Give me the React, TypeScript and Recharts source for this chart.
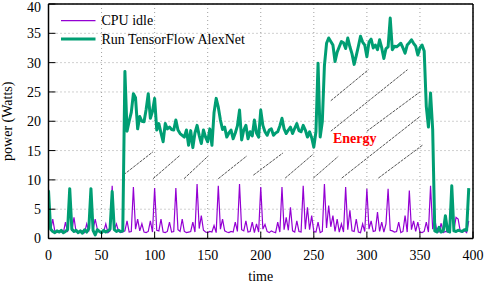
import React from 'react';
import {
  LineChart,
  Line,
  XAxis,
  YAxis,
  CartesianGrid,
  ReferenceLine,
  ReferenceDot,
  Legend,
  Label,
} from 'recharts';

// power (Watts), sampled every 2 time units, t = 0 .. 396
const CPU_IDLE = [
  8.4, 1.4, 3.3, 1.2, 1.0, 1.3, 1.1, 1.0, 2.8, 1.1,
  8.3, 1.3, 3.6, 1.1, 1.2, 1.0, 1.3, 1.0, 2.5, 1.2,
  8.2, 1.5, 3.3, 1.6, 1.1, 1.0, 1.2, 2.5, 1.0, 1.3,
  9.0, 1.5, 2.5, 1.2, 1.0, 1.1, 1.3, 3.0, 1.1, 1.2,
  8.8, 1.6, 3.3, 1.3, 2.5, 1.1, 1.0, 1.2, 3.0, 1.1,
  8.6, 1.4, 1.3, 3.3, 1.1, 1.0, 1.2, 2.8, 1.1, 1.2,
  8.6, 1.5, 1.2, 3.3, 1.2, 1.0, 1.1, 1.2, 2.8, 1.1,
  9.3, 1.7, 3.9, 1.4, 1.1, 1.0, 1.2, 1.1, 2.2, 1.0,
  9.0, 1.6, 3.3, 1.3, 1.1, 1.0, 1.2, 1.1, 2.8, 1.2,
  9.3, 1.5, 1.3, 3.0, 1.1, 1.2, 2.8, 1.0, 2.5, 1.1,
  8.8, 1.6, 2.4, 1.2, 1.0, 1.3, 1.1, 1.0, 2.8, 1.1,
  8.8, 1.5, 3.6, 1.4, 5.3, 1.3, 1.1, 3.0, 1.2, 1.1,
  9.0, 1.6, 5.3, 1.5, 3.9, 1.2, 1.1, 2.8, 1.0, 1.2,
  9.3, 1.8, 5.6, 2.0, 3.9, 1.2, 3.3, 1.1, 2.5, 1.1,
  8.8, 1.5, 4.8, 1.3, 1.2, 3.3, 1.1, 1.0, 2.5, 1.2,
  8.5, 1.6, 3.0, 1.2, 1.3, 4.5, 1.2, 2.8, 1.1, 2.5,
  8.5, 1.4, 1.3, 1.1, 1.2, 2.8, 1.0, 1.2, 3.9, 1.1,
  8.2, 1.5, 3.0, 1.2, 2.8, 1.1, 1.0, 1.2, 2.8, 1.1,
  9.0, 1.6, 3.3, 1.2, 1.1, 2.6, 1.0, 1.2, 1.1, 2.5,
  8.5, 1.4, 3.6, 3.3, 1.2, 1.1, 1.3, 1.0, 3.0,
];

const TF_ALEXNET = [
  8.2, 1.6, 1.2, 1.0, 1.3, 1.1, 1.4, 1.0, 1.2, 1.5,
  8.5, 1.6, 1.2, 1.4, 1.0, 1.3, 0.9, 1.5, 1.1, 1.7,
  8.5, 1.4, 0.6, 1.5, 1.2, 1.0, 1.4, 1.1, 1.3, 1.6,
  8.0, 1.5, 1.2, 1.4, 1.2, 1.3, 28.5, 18.3, 20.0, 21.5,
  24.7, 24.0, 18.7, 20.8, 20.0, 19.9, 22.0, 24.7, 20.5, 21.7,
  23.9, 18.5, 19.6, 18.0, 16.5, 19.6, 18.7, 19.0, 18.6, 18.5,
  20.2, 18.5, 17.9, 17.6, 17.3, 18.5, 15.9, 18.4, 15.5, 18.0,
  19.3, 17.6, 16.2, 18.5, 17.3, 16.5, 18.7, 15.9, 21.5, 23.9,
  22.4, 20.2, 18.6, 19.0, 17.3, 18.0, 18.5, 17.0, 18.0, 19.2,
  21.9, 16.8, 18.5, 19.3, 17.0, 18.2, 17.5, 20.2, 18.0, 17.3,
  21.9, 19.3, 18.2, 17.6, 18.5, 18.7, 17.6, 18.0, 18.2, 19.2,
  20.5, 18.7, 17.9, 18.5, 19.0, 17.9, 18.8, 19.6, 18.4, 18.2,
  19.3, 18.5, 17.3, 18.2, 17.2, 15.6, 18.2, 29.9, 17.3, 19.9,
  29.5, 33.3, 34.2, 33.6, 33.0, 30.2, 31.8, 32.7, 33.6, 33.4,
  32.4, 34.2, 32.7, 31.5, 29.7, 31.2, 32.8, 34.5, 33.5, 33.0,
  31.0, 33.5, 34.0, 32.5, 33.0, 32.2, 33.9, 32.5, 30.7, 32.4,
  32.7, 37.6, 32.2, 32.8, 32.7, 33.0, 33.3, 32.5, 31.6, 33.0,
  33.4, 33.9, 33.3, 32.8, 31.3, 32.5, 33.0, 32.0, 22.5, 19.0,
  24.8, 18.6, 1.3, 1.1, 1.9, 1.1, 1.3, 3.9, 1.3, 1.1,
  9.0, 1.3, 1.2, 1.4, 1.3, 1.2, 1.5, 1.4, 8.6,
];

const TIME_STEP = 2;
const TIMES = CPU_IDLE.map((_, i) => i * TIME_STEP);

const X_TICKS = [0, 50, 100, 150, 200, 250, 300, 350, 400];
const Y_TICKS = [0, 5, 10, 15, 20, 25, 30, 35, 40];

const SERIES_NAMES = ['CPU idle', 'Run TensorFlow AlexNet'];
const X_LABEL = 'time';
const Y_LABEL = 'power (Watts)';

// hatch strokes marking the energy area: [x1, y1, x2, y2] in data units
const HATCH_SEGMENTS = [
  [71, 10.9, 98.5, 14.8],
  [98.5, 10.2, 124, 14.2],
  [127.7, 10.2, 150.6, 14.1],
  [160, 10.2, 187, 14.1],
  [193, 10.8, 221, 14.6],
  [223, 10.3, 249.5, 14.4],
  [249.5, 10.3, 273, 14.0],
  [276.3, 10.3, 350, 20.8],
  [310.8, 10.3, 353, 16.0],
  [266, 18.3, 338.3, 28.8],
  [300, 18.3, 350, 25.0],
  [266, 23.5, 301.5, 28.8],
];

const ENERGY_TEXT = 'Energy';
const ENERGY_POS = { x: 288.5, y: 17.0 };

const data = TIMES.map((t, i) => ({
  t,
  idle: CPU_IDLE[i],
  tf: TF_ALEXNET[i],
}));

const FONT = '"Liberation Serif", "Times New Roman", serif';
const PURPLE = '#9400d3';
const GREEN = '#009e73';

const renderLegend = (props: any) => {
  const payload = props.payload || [];
  return (
    <svg width={486} height={60} style={{ display: 'block', overflow: 'visible' }}>
      {payload.map((entry: any, i: number) => (
        <g key={i}>
          <line
            x1={61}
            x2={95.5}
            y1={20.7 + i * 18.2}
            y2={20.7 + i * 18.2}
            stroke={entry.color}
            strokeWidth={i === 0 ? 1.2 : 3}
          />
          <text
            x={101.5}
            y={25.3 + i * 18.2}
            fontSize={14}
            fontFamily={FONT}
            fill="#000"
          >
            {entry.value}
          </text>
        </g>
      ))}
    </svg>
  );
};

const renderYLabel = (props: any) => {
  const vb = props.viewBox || { x: 0, y: 4, width: 48.5, height: 234.5 };
  const cy = vb.y + vb.height / 2;
  const lx = 12;
  return (
    <text
      x={lx}
      y={cy}
      transform={`rotate(-90 ${lx} ${cy})`}
      textAnchor="middle"
      fontSize={14}
      fontFamily={FONT}
      fill="#000"
    >
      {Y_LABEL}
    </text>
  );
};

const renderYTick = (props: any) => {
  const y = Math.max(props.y, 7);
  return (
    <text
      x={props.x}
      y={y}
      dy="0.355em"
      textAnchor="end"
      fontSize={14}
      fontFamily={FONT}
      fill="#000"
    >
      {props.payload.value}
    </text>
  );
};

const renderEnergy = (props: any) => (
  <text
    x={props.cx}
    y={props.cy + 4.5}
    textAnchor="middle"
    fontSize={14}
    fontWeight="bold"
    fontFamily={FONT}
    fill="#ff0000"
  >
    {ENERGY_TEXT}
  </text>
);

const tickStyle = { fontSize: 14, fill: '#000', fontFamily: FONT };

export default function App() {
  return (
    <div style={{ position: 'absolute', left: 0, top: 0, fontFamily: FONT }}>
      <LineChart
        width={486}
        height={284}
        data={data}
        margin={{ top: 3, right: 12, bottom: 0, left: 0 }}
        style={{ fontFamily: FONT }}
      >
        <CartesianGrid
          stroke="#a0a0a0"
          strokeDasharray="1 3"
          strokeWidth={1}
          xAxisId="bottom"
          yAxisId="left"
        />
        <XAxis
          xAxisId="bottom"
          dataKey="t"
          type="number"
          domain={[0, 400]}
          ticks={X_TICKS}
          interval={0}
          allowDataOverflow
          height={45.5}
          tickSize={-7}
          tickMargin={18.5}
          tick={tickStyle}
          axisLine={{ stroke: '#000', strokeWidth: 1.5 }}
          tickLine={{ stroke: '#000', strokeWidth: 1 }}
          label={{
            value: X_LABEL,
            position: 'insideBottom',
            offset: 3,
            style: { fontSize: 14, fill: '#000', fontFamily: FONT },
          }}
        />
        <XAxis
          xAxisId="top"
          orientation="top"
          type="number"
          domain={[0, 400]}
          ticks={X_TICKS}
          interval={0}
          allowDataOverflow
          height={1}
          tickSize={-7}
          tick={false}
          axisLine={{ stroke: '#000', strokeWidth: 1.5 }}
          tickLine={{ stroke: '#000', strokeWidth: 1 }}
        />
        <YAxis
          yAxisId="left"
          type="number"
          domain={[0, 40]}
          ticks={Y_TICKS}
          interval={0}
          allowDataOverflow
          width={48.5}
          tickSize={-7}
          tickMargin={14.5}
          tick={renderYTick}
          axisLine={{ stroke: '#000', strokeWidth: 1.5 }}
          tickLine={{ stroke: '#000', strokeWidth: 1 }}
          label={<Label content={renderYLabel} />}
        />
        <YAxis
          yAxisId="right"
          orientation="right"
          type="number"
          domain={[0, 40]}
          ticks={Y_TICKS}
          interval={0}
          allowDataOverflow
          width={1}
          tickSize={-7}
          tick={false}
          axisLine={{ stroke: '#000', strokeWidth: 1.5 }}
          tickLine={{ stroke: '#000', strokeWidth: 1 }}
        />
        {HATCH_SEGMENTS.map((s, i) => (
          <ReferenceLine
            key={`h${i}`}
            xAxisId="bottom"
            yAxisId="left"
            segment={[
              { x: s[0], y: s[1] },
              { x: s[2], y: s[3] },
            ]}
            stroke="#555"
            strokeWidth={1}
            strokeDasharray="3 1"
          />
        ))}
        <Line
          xAxisId="bottom"
          yAxisId="left"
          type="linear"
          dataKey="idle"
          name={SERIES_NAMES[0]}
          stroke={PURPLE}
          strokeWidth={1.2}
          dot={false}
          activeDot={false}
          isAnimationActive={false}
        />
        <Line
          xAxisId="bottom"
          yAxisId="left"
          type="linear"
          dataKey="tf"
          name={SERIES_NAMES[1]}
          stroke={GREEN}
          strokeWidth={3}
          strokeLinejoin="round"
          dot={false}
          activeDot={false}
          isAnimationActive={false}
        />
        <ReferenceDot
          xAxisId="bottom"
          yAxisId="left"
          x={ENERGY_POS.x}
          y={ENERGY_POS.y}
          r={0}
          shape={renderEnergy}
        />
        <Legend
          layout="horizontal"
          verticalAlign="middle"
          align="center"
          content={renderLegend}
          wrapperStyle={{
            position: 'absolute',
            left: 0,
            top: 0,
            width: 486,
            height: 60,
            pointerEvents: 'none',
          }}
        />
      </LineChart>
    </div>
  );
}
